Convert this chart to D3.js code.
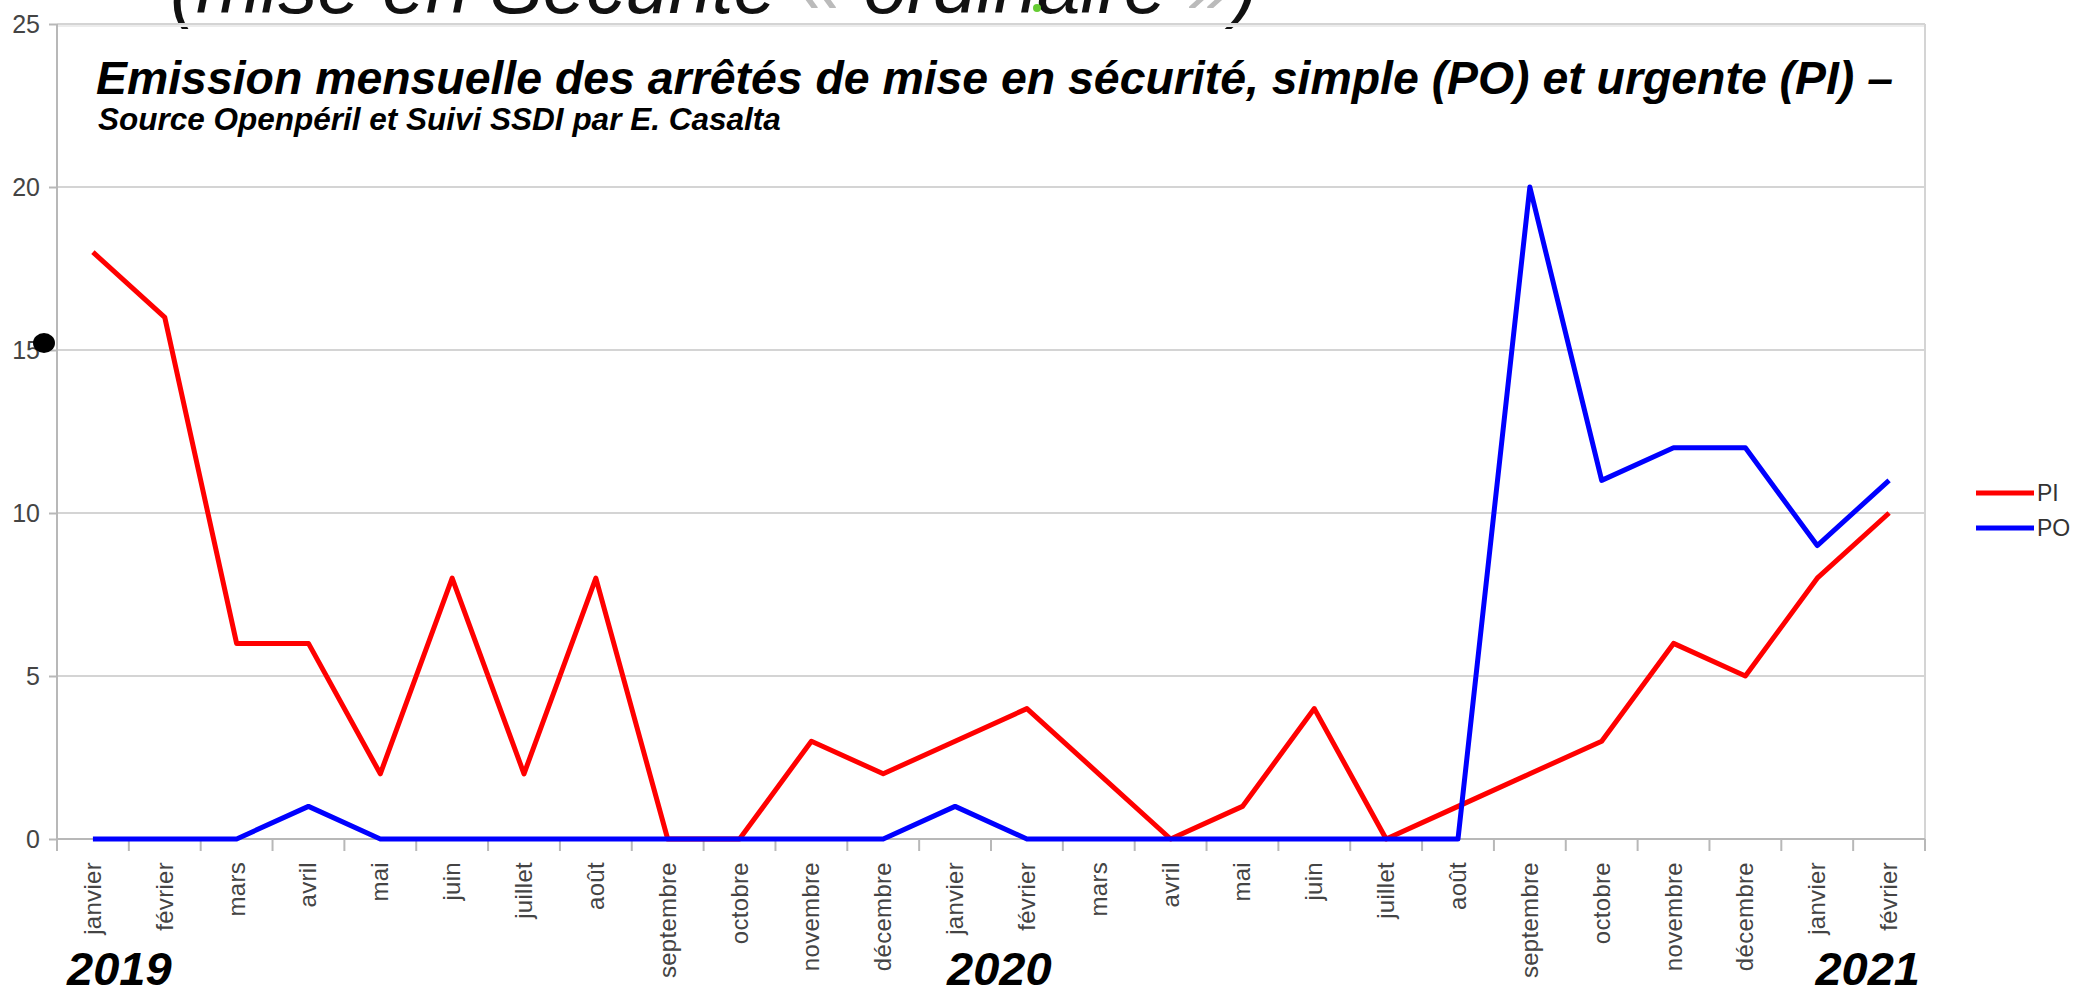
<!DOCTYPE html>
<html lang="fr">
<head>
    <meta charset="UTF-8">
    <title>Arrêtés de mise en sécurité</title>
    <style>
        body { margin: 0; background: #fff; }
        svg { display: block; font-family: "Liberation Sans", Arial, sans-serif; }
        .grid line { stroke: #d4d4d4; stroke-width: 2; }
        .axis text { fill: #444; }
        .axis path, .axis line { stroke: #b8b8b8; stroke-width: 2; }
    </style>
</head>
<body>
    <div id="chart"></div>
    <script src="https://d3js.org/d3.v7.min.js"></script>
    <script>
        // Data
        const months = ["janvier", "février", "mars", "avril", "mai", "juin", "juillet", "août",
            "septembre", "octobre", "novembre", "décembre",
            "janvier", "février", "mars", "avril", "mai", "juin", "juillet", "août",
            "septembre", "octobre", "novembre", "décembre",
            "janvier", "février"];
        const valuesPI = [18, 16, 6, 6, 2, 8, 2, 8, 0, 0, 3, 2, 3, 4, 2, 0, 1, 4, 0, 1, 2, 3, 6, 5, 8, 10];
        const valuesPO = [0, 0, 0, 1, 0, 0, 0, 0, 0, 0, 0, 0, 1, 0, 0, 0, 0, 0, 0, 0, 20, 11, 12, 12, 9, 11];
        const yTicks = [0, 5, 10, 15, 20, 25];
        const years = [{ label: "2019", idx: 0 }, { label: "2020", idx: 12 }, { label: "2021", idx: 24 }];
        const seriesNames = ["PI", "PO"];
        const seriesColors = ["#ff0000", "#0000ff"];

        const width = 2082, height = 988;
        const plotLeft = 57, plotRight = 1925, plotTop = 24, plotBottom = 839;

        const svg = d3.select("#chart").append("svg")
            .attr("width", width)
            .attr("height", height);

        const idx = d3.range(months.length);
        const x = d3.scalePoint().domain(idx).range([plotLeft, plotRight]).padding(0.5);
        const step = x.step();
        const y = d3.scaleLinear().domain([0, 25]).range([plotBottom, plotTop]);

        // cropped heading from the page above the chart
        const head = svg.append("text")
            .attr("x", 170).attr("y", 13)
            .attr("font-size", 78)
            .attr("font-style", "italic")
            .attr("fill", "#111");
        head.append("tspan").text("(mise en Sécurité ");
        head.append("tspan").attr("fill", "#bbb").text("« ");
        head.append("tspan").text("ordinaire ");
        head.append("tspan").attr("fill", "#bbb").text("»");
        head.append("tspan").text(")");
        svg.append("circle").attr("cx", 1037).attr("cy", 8).attr("r", 4).attr("fill", "#6c3");

        // gridlines
        svg.append("g").attr("class", "grid")
            .selectAll("line")
            .data(yTicks.filter(d => d > 0))
            .join("line")
            .attr("x1", plotLeft).attr("x2", plotRight)
            .attr("y1", d => y(d)).attr("y2", d => y(d));
        svg.append("line")
            .attr("x1", plotLeft).attr("x2", plotRight)
            .attr("y1", y(25) + 2).attr("y2", y(25) + 2)
            .attr("stroke", "#ececec").attr("stroke-width", 2);
        svg.append("line")
            .attr("x1", plotRight).attr("x2", plotRight)
            .attr("y1", plotTop).attr("y2", plotBottom)
            .attr("stroke", "#d4d4d4").attr("stroke-width", 2);

        // y axis
        const yAxis = svg.append("g").attr("class", "axis")
            .attr("transform", `translate(${plotLeft},0)`)
            .call(d3.axisLeft(y).tickValues(yTicks).tickSize(8).tickPadding(9));
        yAxis.select(".domain").attr("d", `M0,${plotTop}V${plotBottom + 12}`);
        yAxis.selectAll("text").attr("font-size", 25);

        // x axis: ticks at the band edges
        const xAxis = svg.append("g").attr("class", "axis")
            .attr("transform", `translate(0,${plotBottom})`);
        xAxis.append("line").attr("x1", plotLeft).attr("x2", plotRight).attr("y1", 0).attr("y2", 0);
        xAxis.selectAll(".tk")
            .data(d3.range(months.length + 1))
            .join("line")
            .attr("class", "tk")
            .attr("x1", d => plotLeft + d * step).attr("x2", d => plotLeft + d * step)
            .attr("y1", 0).attr("y2", 12);
        xAxis.selectAll(".lbl")
            .data(idx)
            .join("text")
            .attr("class", "lbl")
            .attr("transform", d => `translate(${x(d) + 8},23) rotate(-90)`)
            .attr("text-anchor", "end")
            .attr("font-size", 24)
            .attr("letter-spacing", 0.3)
            .text(d => months[d]);

        // lines
        const line = d3.line().x((d, i) => x(i)).y(d => y(d));
        [valuesPI, valuesPO].forEach((vals, k) => {
            svg.append("path")
                .datum(vals)
                .attr("fill", "none")
                .attr("stroke", seriesColors[k])
                .attr("stroke-width", 5)
                .attr("stroke-linejoin", "round")
                .attr("d", line);
        });

        // legend
        const legend = svg.append("g");
        seriesNames.forEach((name, k) => {
            const ly = 493 + k * 35;
            legend.append("line")
                .attr("x1", 1976).attr("x2", 2034)
                .attr("y1", ly).attr("y2", ly)
                .attr("stroke", seriesColors[k]).attr("stroke-width", 5);
            legend.append("text")
                .attr("x", 2037).attr("y", ly + 8)
                .attr("font-size", 23)
                .attr("fill", "#333")
                .text(name);
        });

        // titles
        svg.append("text")
            .attr("x", 96).attr("y", 94)
            .attr("font-size", 46.4).attr("font-weight", "bold").attr("font-style", "italic")
            .text("Emission mensuelle des arrêtés de mise en sécurité, simple (PO) et urgente (PI) –");
        svg.append("text")
            .attr("x", 98).attr("y", 130)
            .attr("font-size", 31.5).attr("font-weight", "bold").attr("font-style", "italic")
            .text("Source Openpéril et Suivi SSDI par E. Casalta");

        // year labels
        svg.selectAll(".year")
            .data(years)
            .join("text")
            .attr("class", "year")
            .attr("x", d => d.idx === 24 ? 1920 : (d.idx === 0 ? 67 : 947))
            .attr("text-anchor", d => d.idx === 24 ? "end" : "start")
            .attr("y", 985)
            .attr("font-size", 47).attr("font-weight", "bold").attr("font-style", "italic")
            .text(d => d.label);

        // stray marker on the left
        svg.append("ellipse")
            .attr("cx", 44).attr("cy", 343).attr("rx", 11).attr("ry", 10)
            .attr("fill", "#000");
    </script>
</body>
</html>
